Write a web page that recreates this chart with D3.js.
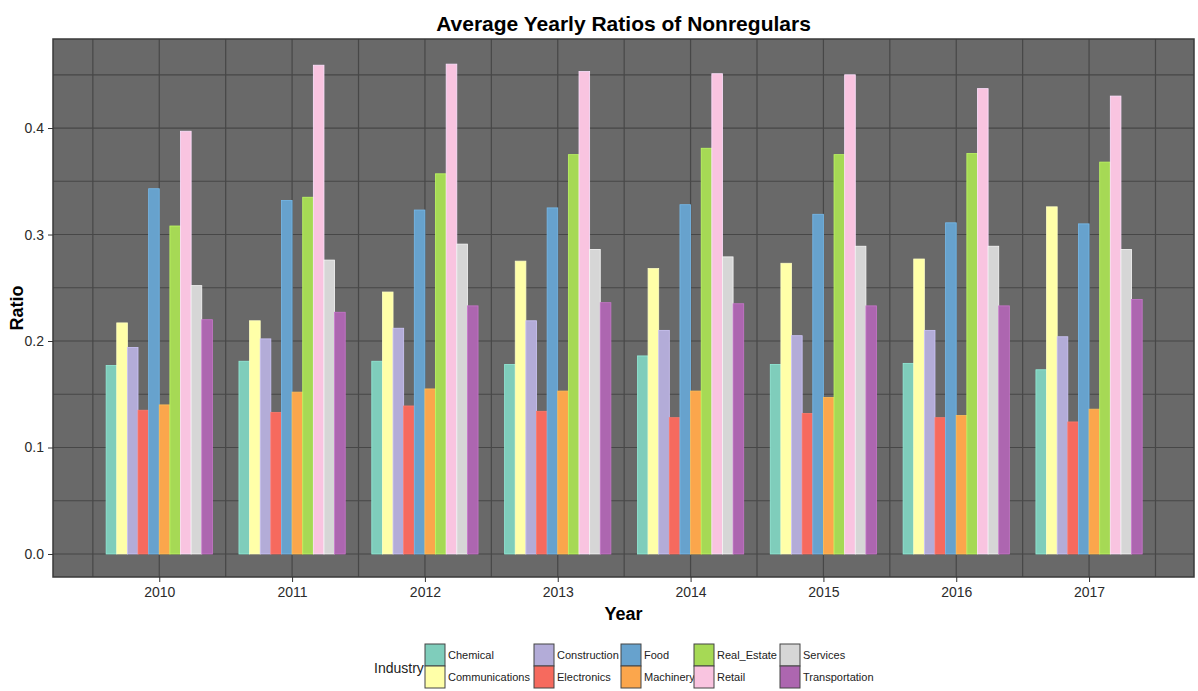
<!DOCTYPE html>
<html>
<head>
<meta charset="utf-8">
<script src="https://cdn.jsdelivr.net/npm/d3@7"></script>
<style>
  body { margin: 0; background: #fff; }
  text { font-family: "Liberation Sans", Arial, sans-serif; }
</style>
</head>
<body>
<svg width="1198" height="691"></svg>
<script>
// yearly ratio of nonregular workers, one array per industry (2010..2017)
const years = [2010, 2011, 2012, 2013, 2014, 2015, 2016, 2017];
const industries = ["Chemical", "Communications", "Construction", "Electronics", "Food",
                    "Machinery", "Real_Estate", "Retail", "Services", "Transportation"];

const chemical       = [0.177, 0.181, 0.181, 0.178, 0.186, 0.178, 0.179, 0.173];
const communications = [0.217, 0.219, 0.246, 0.275, 0.268, 0.273, 0.277, 0.326];
const construction   = [0.194, 0.202, 0.212, 0.219, 0.210, 0.205, 0.210, 0.204];
const electronics    = [0.135, 0.133, 0.139, 0.134, 0.128, 0.132, 0.128, 0.124];
const food           = [0.343, 0.332, 0.323, 0.325, 0.328, 0.319, 0.311, 0.310];
const machinery      = [0.140, 0.152, 0.155, 0.153, 0.153, 0.147, 0.130, 0.136];
const realEstate     = [0.308, 0.335, 0.357, 0.375, 0.381, 0.375, 0.376, 0.368];
const retail         = [0.397, 0.459, 0.460, 0.453, 0.451, 0.450, 0.437, 0.430];
const services       = [0.252, 0.276, 0.291, 0.286, 0.279, 0.289, 0.289, 0.286];
const transportation = [0.220, 0.227, 0.233, 0.236, 0.235, 0.233, 0.233, 0.239];

const yTicks = [0.0, 0.1, 0.2, 0.3, 0.4];

function init() {
    const series = {
        Chemical: chemical, Communications: communications, Construction: construction,
        Electronics: electronics, Food: food, Machinery: machinery, Real_Estate: realEstate,
        Retail: retail, Services: services, Transportation: transportation
    };
    let colors = {
        Chemical: '#7fcdbb', Communications: '#ffffa8', Construction: '#b3acd8',
        Electronics: '#f66a5e', Food: '#67a2cd', Machinery: '#fba64c',
        Real_Estate: '#a6d955', Retail: '#f9c4e0', Services: '#d6d6d6',
        Transportation: '#ad66b0'
    };

    // flatten into rows for the bars
    let rows = [];
    years.forEach((yr, i) => {
        industries.forEach(ind => rows.push({ year: yr, industry: ind, value: series[ind][i] }));
    });

    const panel = { left: 53, right: 1194, top: 39, bottom: 577 };
    let svg = d3.select('svg');

    let xScale = d3.scaleLinear()
        .domain([2009.2, 2017.79])
        .range([panel.left, panel.right]);

    let yScale = d3.scaleLinear()
        .domain([-0.0216, 0.4836])
        .range([panel.bottom, panel.top]);

    // dodge offsets inside each year, 0.8 year wide in total
    let dodge = d3.scaleBand()
        .domain(industries)
        .range([-0.4, 0.4]);

    // panel background
    svg.append('rect')
        .attr('x', panel.left)
        .attr('y', panel.top)
        .attr('width', panel.right - panel.left)
        .attr('height', panel.bottom - panel.top)
        .attr('fill', '#696969');

    // grid lines (years + half years, every 0.05 on y)
    let vGrid = d3.range(2009.5, 2018, 0.5);
    let hGrid = d3.range(0, 0.4501, 0.05);

    svg.append('g')
        .selectAll('line')
        .data(vGrid)
        .enter()
        .append('line')
        .attr('x1', d => xScale(d))
        .attr('x2', d => xScale(d))
        .attr('y1', panel.top)
        .attr('y2', panel.bottom)
        .attr('stroke', '#474747')
        .attr('stroke-width', 1.2);

    svg.append('g')
        .selectAll('line')
        .data(hGrid)
        .enter()
        .append('line')
        .attr('x1', panel.left)
        .attr('x2', panel.right)
        .attr('y1', d => yScale(d))
        .attr('y2', d => yScale(d))
        .attr('stroke', '#474747')
        .attr('stroke-width', 1.2);

    // bars
    svg.append('g')
        .selectAll('rect')
        .data(rows)
        .enter()
        .append('rect')
        .attr('x', d => xScale(d.year + dodge(d.industry)))
        .attr('width', d => xScale(d.year + dodge(d.industry) + dodge.bandwidth()) - xScale(d.year + dodge(d.industry)))
        .attr('y', d => yScale(d.value))
        .attr('height', d => yScale(0) - yScale(d.value))
        .attr('fill', d => colors[d.industry])
        .attr('stroke', d => d3.color(colors[d.industry]).brighter(0.4))
        .attr('stroke-width', 0.8);

    // panel border
    svg.append('rect')
        .attr('x', panel.left)
        .attr('y', panel.top)
        .attr('width', panel.right - panel.left)
        .attr('height', panel.bottom - panel.top)
        .attr('fill', 'none')
        .attr('stroke', '#3a3a3a')
        .attr('stroke-width', 1.5);

    // axes
    let yAxis = svg.append('g')
        .attr('transform', `translate(${panel.left}, 0)`)
        .call(d3.axisLeft(yScale).tickValues(yTicks).tickFormat(d3.format('.1f')).tickSize(5).tickPadding(4));

    let xAxis = svg.append('g')
        .attr('transform', `translate(0, ${panel.bottom})`)
        .call(d3.axisBottom(xScale).tickValues(years).tickFormat(d3.format('d')).tickSize(5).tickPadding(5));

    [xAxis, yAxis].forEach(a => {
        a.select('.domain').remove();
        a.selectAll('line').attr('stroke', '#333');
        a.selectAll('text')
            .attr('font-family', '"Liberation Sans", Arial, sans-serif')
            .attr('font-size', '14px')
            .attr('fill', '#2b2b2b');
    });

    // titles
    svg.append('text')
        .attr('x', (panel.left + panel.right) / 2)
        .attr('y', 31)
        .attr('text-anchor', 'middle')
        .attr('font-size', '21px')
        .attr('font-weight', 'bold')
        .attr('fill', '#000')
        .text('Average Yearly Ratios of Nonregulars');

    svg.append('text')
        .attr('x', (panel.left + panel.right) / 2)
        .attr('y', 620)
        .attr('text-anchor', 'middle')
        .attr('font-size', '18px')
        .attr('font-weight', 'bold')
        .attr('fill', '#000')
        .text('Year');

    svg.append('text')
        .attr('transform', `translate(23, ${(panel.top + panel.bottom) / 2}) rotate(-90)`)
        .attr('text-anchor', 'middle')
        .attr('font-size', '18px')
        .attr('font-weight', 'bold')
        .attr('fill', '#000')
        .text('Ratio');

    // legend: 2 rows x 5 columns, filled column by column
    let legend = svg.append('g');
    legend.append('text')
        .attr('x', 374)
        .attr('y', 673)
        .attr('font-size', '14px')
        .attr('fill', '#222')
        .text('Industry');

    let colX = [425, 534, 621, 694, 780];
    let keyW = 20, keyH = 22, top = 644;

    let keys = legend.selectAll('g.key')
        .data(industries)
        .enter()
        .append('g')
        .attr('class', 'key')
        .attr('transform', (d, i) => `translate(${colX[Math.floor(i / 2)]}, ${top + (i % 2) * keyH})`);

    keys.append('rect')
        .attr('width', keyW)
        .attr('height', keyH)
        .attr('fill', d => colors[d])
        .attr('stroke', '#444')
        .attr('stroke-width', 1);

    keys.append('text')
        .attr('x', keyW + 3)
        .attr('y', keyH / 2 + 4)
        .attr('font-size', '11px')
        .attr('fill', '#222')
        .text(d => d);
}

init();
</script>
</body>
</html>
